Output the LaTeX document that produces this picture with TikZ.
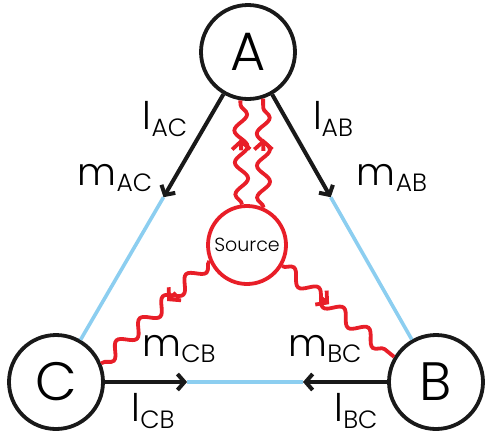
\documentclass[tikz,border=0pt]{standalone}
\usepackage{fontspec}
\setmainfont{Poppins}[UprightFont={* Light}]
\usetikzlibrary{arrows.meta,calc,decorations.pathmorphing}
\definecolor{linkblue}{RGB}{140,206,240}
\definecolor{photonred}{RGB}{232,30,40}
\newcommand{\lbl}[2]{#1\raisebox{-0.3ex}{\fontsize{25}{25}\selectfont #2}}

\begin{document}
\begin{tikzpicture}[x=1pt, y=-1pt,
  party/.style={draw=black!90, line width=3.8pt, circle, minimum size=94pt,
                inner sep=0pt, fill=white, font=\fontsize{54}{54}\selectfont},
  src/.style={draw=photonred, line width=3.8pt, circle, minimum size=78pt,
              inner sep=0pt, fill=white, font=\fontsize{19}{19}\selectfont},
  arr/.style={-{Straight Barb[length=7pt,width=16pt]}, line width=4pt, black!90},
  fibre/.style={line width=3.6pt, linkblue},
  photon/.style={photonred, line width=3.8pt, decorate,
                 decoration={snake, amplitude=6.5pt, segment length=32pt}},
  ptip/.style={-{Straight Barb[length=8pt,width=18pt]}, photonred, line width=3.8pt},
  lab/.style={font=\fontsize{38}{38}\selectfont, inner sep=0pt}
]
\useasboundingbox (0,0) rectangle (486,437);

% parties and source
\node[party] (A) at (248,52)  {A};
\node[party] (C) at (56,382)  {C};
\node[party] (B) at (436,382) {B};
\node[src]   (S) at (247,245) {Source};

% links: classical part (black) and fibre (blue)
\coordinate (tAC) at ($(A)!0.44!(C)$);
\coordinate (tAB) at ($(A)!0.44!(B)$);
\coordinate (tCB) at ($(C)!0.345!(B)$);
\coordinate (tBC) at ($(B)!0.35!(C)$);
\draw[fibre] (tAC) -- (C);
\draw[fibre] (tAB) -- (B);
\draw[fibre] (tCB) -- (tBC);
\draw[arr] (A) -- (tAC);
\draw[arr] (A) -- (tAB);
\draw[arr] (C) -- (tCB);
\draw[arr] (B) -- (tBC);

% photons from the source
\draw[photon] (S.97) -- (A.-99);
\draw[photon] (S.66) -- (A.-72);
\draw[photon] (S.203) -- (C.22);
\draw[photon] (S.-31) -- (B.149);
\draw[ptip] ($(S.97)!0.52!(A.-99)$) -- ($(S.97)!0.63!(A.-99)$);
\draw[ptip] ($(S.66)!0.52!(A.-72)$) -- ($(S.66)!0.63!(A.-72)$);
\draw[ptip] ($(S.203)!0.31!(C.22)$) -- ($(S.203)!0.39!(C.22)$);
\draw[ptip] ($(S.-31)!0.34!(B.149)$) -- ($(S.-31)!0.42!(B.149)$);

% labels
\node[lab] (lAC) at (165,119) {\lbl{l}{AC}};
\node[lab] (mAC) at (115,178) {\lbl{m}{AC}};
\node[lab] (lAB) at (333,119) {\lbl{l}{AB}};
\node[lab] (mAB) at (392,178) {\lbl{m}{AB}};
\node[lab] (mCB) at (179,349) {\lbl{m}{CB}};
\node[lab] (lCB) at (153,411) {\lbl{l}{CB}};
\node[lab] (mBC) at (325,349) {\lbl{m}{BC}};
\node[lab] (lBC) at (356,411) {\lbl{l}{BC}};
\end{tikzpicture}
\end{document}
